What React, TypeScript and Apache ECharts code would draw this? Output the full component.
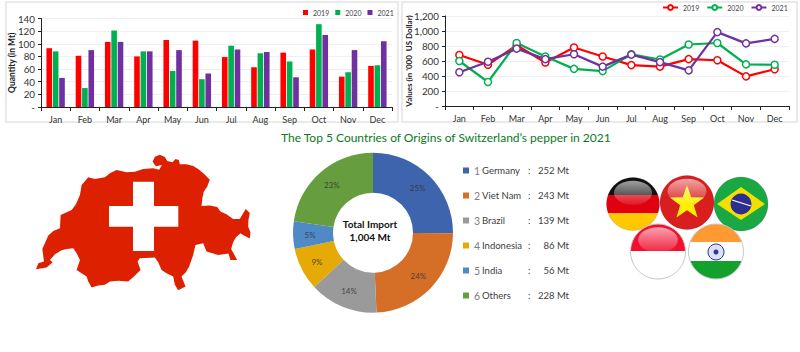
import React, { useEffect, useRef } from "react";
import * as echarts from "echarts";

const FONT = "Lato, Carlito, 'Open Sans', sans-serif";
const months = ["Jan", "Feb", "Mar", "Apr", "May", "Jun", "Jul", "Aug", "Sep", "Oct", "Nov", "Dec"];
const years = ["2019", "2020", "2021"];
const yearColors = ["#ff0000", "#00b050", "#7030a0"];
const qty2019 = [93, 81, 103, 80, 106, 105, 79, 63, 86, 91, 48, 65];
const qty2020 = [88, 30, 121, 88, 57, 44, 97, 85, 72, 131, 55, 66];
const qty2021 = [46, 90, 103, 88, 90, 53, 91, 87, 47, 114, 90, 104];
const val2019 = [680, 550, 810, 580, 780, 660, 545, 525, 625, 610, 395, 490];
const val2020 = [600, 320, 840, 660, 495, 465, 690, 620, 820, 840, 555, 550];
const val2021 = [450, 590, 765, 625, 690, 525, 685, 585, 475, 985, 835, 895];
const countries = ["Germany", "Viet Nam", "Brazil", "Indonesia", "India", "Others"];
const imports = [252, 243, 139, 86, 56, 228];
const shares = ["25%", "24%", "14%", "9%", "5%", "23%"];
const pieColors = ["#3f64ae", "#d56f28", "#9a9a9a", "#e5aa05", "#4f8ac6", "#669d3e"];
const titleText = "The Top 5 Countries of Origins of Switzerland’s pepper in 2021";

const swissOutline =
  "M368 50L375 35L390 29L405 36L412 48L428 52L437 42L447 45L450 58L470 58L490 63L505 72L522 86L540 104L532 125L522 140L518 158L515 183L540 182L562 186L572 200L590 208L610 222L630 222L640 205L648 192L660 204L656 225L655 245L662 262L660 281L640 270L632 265L618 278L610 292L604 312L622 345L602 345L596 326L565 330L548 325L530 320L520 295L497 300L490 330L478 365L468 382L455 395L467 425L445 436L435 420L430 395L410 385L395 375L385 352L375 338L330 340L323 350L332 375L312 395L295 410L265 408L240 410L225 420L205 422L185 428L175 410L170 395L140 375L150 345L140 325L130 310L110 312L95 316L75 328L60 345L68 352L50 368L18 373L25 355L42 350L37 312L55 272L70 258L90 250L92 210L125 195L138 178L150 150L155 120L175 97L195 102L225 97L240 85L260 75L290 82L315 80L340 72L370 70L388 74L396 60L378 64Z";
echarts.graphic.registerShape("swiss", echarts.graphic.extendPath(swissOutline, {}) as any);

const hard = (stops: [number, string][]) => {
  const colorStops: any[] = [];
  stops.forEach(([end, color], i) => {
    const start = i === 0 ? 0 : stops[i - 1][0];
    colorStops.push({ offset: start, color }, { offset: end, color });
  });
  return { type: "linear", x: 0, y: 0, x2: 0, y2: 1, colorStops };
};

const star = (cx: number, cy: number, R: number) => {
  const pts: number[][] = [];
  for (let i = 0; i < 10; i++) {
    const r = i % 2 ? R * 0.4 : R;
    const a = -Math.PI / 2 + (i * Math.PI) / 5;
    pts.push([cx + r * Math.cos(a), cy + r * Math.sin(a)]);
  }
  return pts;
};

const gloss = (cx: number, cy: number, r: number) => ({
  type: "ellipse",
  shape: { cx, cy: cy - r * 0.42, rx: r * 0.72, ry: r * 0.46 },
  style: {
    fill: {
      type: "linear", x: 0, y: 0, x2: 0, y2: 1,
      colorStops: [
        { offset: 0, color: "rgba(255,255,255,0.6)" },
        { offset: 1, color: "rgba(255,255,255,0.08)" },
      ],
    },
  },
});

const disc = (cx: number, cy: number, r: number, fill: any, stroke = "rgba(0,0,0,0.12)") => ({
  type: "circle",
  shape: { cx, cy, r },
  style: { fill, stroke, lineWidth: 1 },
});

const flags = () => [
  disc(633, 204, 26.5, hard([[0.33, "#111111"], [0.67, "#e0000f"], [1, "#ffc800"]])),
  gloss(633, 204, 26.5),
  disc(687, 202.5, 27, "#d81e1e"),
  { type: "polygon", shape: { points: star(687, 203, 18) }, style: { fill: "#ffee00" } },
  gloss(687, 202.5, 27),
  disc(741, 204, 27, "#1aa845"),
  { type: "polygon", shape: { points: [[717, 204], [741, 187], [765, 204], [741, 220]] }, style: { fill: "#f4e000" } },
  { type: "circle", shape: { cx: 741, cy: 204, r: 10.5 }, style: { fill: "#2d2f8f" } },
  { type: "line", shape: { x1: 732, y1: 200, x2: 751, y2: 206 }, style: { stroke: "#ffffff", lineWidth: 1.3 } },
  disc(658, 251.5, 27.5, hard([[0.5, "#f01030"], [1, "#ffffff"]]), "#c8c8c8"),
  gloss(658, 251.5, 27.5),
  disc(716, 251.5, 27.5, hard([[0.33, "#ff9a33"], [0.67, "#ffffff"], [1, "#14a02c"]]), "#c8c8c8"),
  { type: "circle", shape: { cx: 716, cy: 252, r: 8 }, style: { fill: "#dfe0f2", stroke: "#2a3a90", lineWidth: 1 } },
  { type: "circle", shape: { cx: 716, cy: 252, r: 2.5 }, style: { fill: "#2a3a90" } },
];

const makeAxes = (
  gridIndex: number,
  max: number,
  interval: number,
  name: string,
  nameGap: number,
  nameSize: number
) => ({
  x: {
    type: "category",
    gridIndex,
    data: months,
    axisLine: { lineStyle: { color: "#222222", width: 1 } },
    axisTick: { show: true, alignWithLabel: false, length: 4, lineStyle: { color: "#222222" } },
    axisLabel: { color: "#333333", fontSize: 9, fontFamily: FONT, margin: 8, interval: 0 },
    splitLine: { show: false },
  },
  y: {
    type: "value",
    gridIndex,
    min: 0,
    max,
    interval,
    name,
    nameLocation: "middle",
    nameRotate: 90,
    nameGap,
    nameMoveOverlap: false,
    nameTextStyle: { color: "#222222", fontSize: nameSize, fontWeight: "bold", fontFamily: FONT },
    axisLine: { show: true, lineStyle: { color: "#222222" } },
    axisTick: { show: true, length: 3, lineStyle: { color: "#222222" } },
    axisLabel: {
      color: "#333333",
      fontSize: 9.8,
      fontFamily: FONT,
      margin: 6,
      formatter: (v: number) => (v === 0 ? "-" : v.toLocaleString("en-US")),
    },
    splitLine: { show: true, lineStyle: { color: "#efefef", width: 1 } },
  },
});

export default function App() {
  const ref = useRef<HTMLDivElement>(null);
  useEffect(() => {
    const chart = echarts.init(ref.current!, undefined, { renderer: "svg" });
    const left = makeAxes(0, 140, 20, "Quantity (in Mt)", 25, 8.5);
    const right = makeAxes(1, 1200, 200, "Values (in '000  US Dollar)", 32, 8);
    const qty = [qty2019, qty2020, qty2021];
    const val = [val2019, val2020, val2021];
    chart.setOption({
      animation: false,
      backgroundColor: "#ffffff",
      title: {
        text: titleText,
        left: 281,
        top: 131,
        padding: 0,
        textStyle: { color: "#0b7a1e", fontSize: 12, fontWeight: "normal", fontFamily: FONT },
      },
      grid: [
        { left: 41, right: 408, top: 18.5, bottom: 245 },
        { left: 445, right: 11, top: 16, bottom: 246 },
      ],
      xAxis: [left.x, right.x],
      yAxis: [left.y, right.y],
      legend: [
        {
          left: 303,
          top: 9,
          padding: 0,
          width: 95,
          data: years,
          selectedMode: false,
          icon: "rect",
          itemWidth: 5,
          itemHeight: 5,
          itemGap: 6,
          textStyle: { color: "#444444", fontSize: 7, fontFamily: FONT },
        },
        {
          left: 662,
          top: 4,
          padding: 0,
          width: 135,
          data: years.map((y) => `${y} value`),
          selectedMode: false,
          itemWidth: 15,
          itemHeight: 6,
          itemGap: 7,
          formatter: (n: string) => n.slice(0, 4),
          textStyle: { color: "#444444", fontSize: 7, fontFamily: FONT },
        },
        {
          left: 463,
          top: 165,
          padding: 0,
          orient: "vertical",
          data: countries,
          selectedMode: false,
          icon: "rect",
          itemWidth: 6,
          itemHeight: 6,
          itemGap: 14,
          formatter: (n: string) => {
            const i = countries.indexOf(n);
            return `{num|${i + 1}}{name|${n}}{colon|:}{val|${imports[i]} Mt}`;
          },
          textStyle: {
            fontFamily: FONT,
            rich: {
              num: { fontSize: 10.5, color: "#808080", width: 8, fontFamily: FONT },
              name: { fontSize: 9.5, color: "#404040", width: 46, fontFamily: FONT },
              colon: { fontSize: 9.5, color: "#404040", width: 9, fontFamily: FONT },
              val: { fontSize: 9.5, color: "#404040", width: 32, align: "right", fontFamily: FONT },
            },
          },
        },
      ],
      series: [
        ...years.map((y, i) => ({
          type: "bar",
          name: y,
          xAxisIndex: 0,
          yAxisIndex: 0,
          data: qty[i],
          barWidth: 5.6,
          barGap: "14%",
          itemStyle: { color: yearColors[i] },
        })),
        ...years.map((y, i) => ({
          type: "line",
          name: `${y} value`,
          xAxisIndex: 1,
          yAxisIndex: 1,
          data: val[i],
          symbol: "circle",
          symbolSize: 7,
          lineStyle: { color: yearColors[i], width: 2.2 },
          itemStyle: { color: "#ffffff", borderColor: yearColors[i], borderWidth: 1.5 },
        })),
        {
          type: "pie",
          center: [373, 232.7],
          radius: [40, 80],
          startAngle: 90,
          clockwise: true,
          avoidLabelOverlap: false,
          data: countries.map((name, i) => ({ name, value: imports[i], itemStyle: { color: pieColors[i] } })),
          label: {
            show: true,
            position: "inside",
            color: "rgba(50,50,50,0.85)",
            fontSize: 8,
            fontFamily: FONT,
            formatter: (p: any) => shares[p.dataIndex],
          },
          labelLine: { show: false },
          emphasis: { disabled: true },
        },
      ],
      graphic: [
        { type: "rect", z: -10, shape: { x: 6, y: 2, width: 392, height: 120 }, style: { fill: "none", stroke: "#e4e4e4", lineWidth: 1.5 } },
        { type: "rect", z: -10, shape: { x: 402, y: 2, width: 395, height: 120 }, style: { fill: "none", stroke: "#e4e4e4", lineWidth: 1.5 } },
        { type: "swiss", x: 30, y: 145, scaleX: 1 / 3, scaleY: 1 / 3, style: { fill: "#dd2000" } },
        { type: "rect", shape: { x: 133, y: 181.7, width: 21, height: 69.3 }, style: { fill: "#ffffff" } },
        { type: "rect", shape: { x: 109, y: 206, width: 69.3, height: 20.7 }, style: { fill: "#ffffff" } },
        { type: "text", x: 370, y: 224, style: { text: "Total Import", fill: "#111111", font: `bold 10px ${FONT}`, align: "center", verticalAlign: "middle" } },
        { type: "text", x: 370, y: 236.7, style: { text: "1,004 Mt", fill: "#111111", font: `bold 10px ${FONT}`, align: "center", verticalAlign: "middle" } },
        ...flags(),
      ],
    });
    return () => chart.dispose();
  }, []);
  return <div ref={ref} style={{ position: "absolute", left: 0, top: 0, width: 800, height: 352 }} />;
}
